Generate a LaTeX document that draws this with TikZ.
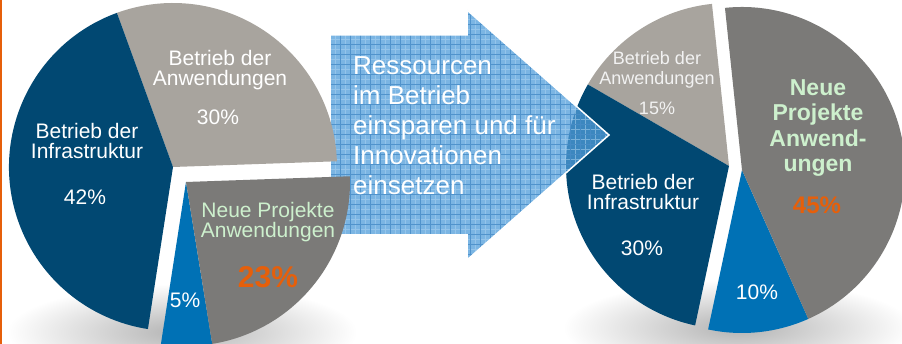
\documentclass[tikz,border=0pt]{standalone}
\usepackage{fontspec}
\setmainfont{Liberation Sans}
\definecolor{infra}{RGB}{1,72,114}
\definecolor{anw}{RGB}{168,164,158}
\definecolor{neu}{RGB}{123,122,120}
\definecolor{smallblue}{RGB}{0,113,181}
\definecolor{mint}{RGB}{205,240,205}
\definecolor{orng}{RGB}{230,95,10}
\definecolor{arrowfill}{RGB}{80,157,218}
\definecolor{arrowgrid}{RGB}{35,115,185}
\definecolor{arrowlight}{RGB}{170,210,240}
\definecolor{paletext}{RGB}{242,242,242}
\newcommand\pieslice[6]{\fill[#6] (#1,#2) -- ++(#3:#5) arc[start angle=#3, end angle=#4, radius=#5] -- cycle;}
\tikzset{
  lbl/.style={font=\fontsize{21}{20}\selectfont, text=white, align=center, inner sep=0pt},
  lblsmall/.style={font=\fontsize{18}{20}\selectfont, text=paletext, align=center, inner sep=0pt},
  mintlbl/.style={font=\fontsize{21}{20}\selectfont, text=mint, align=center, inner sep=0pt},
  mintbold/.style={font=\fontsize{23}{25.5}\selectfont\bfseries, text=mint, align=center, inner sep=0pt},
  bigpct/.style={text=orng, inner sep=0pt},
  arrowtext/.style={font=\fontsize{26}{30}\selectfont, text=white, align=left, inner sep=0pt},
}
\begin{document}
\begin{tikzpicture}[x=1pt,y=1pt]
\clip (0,0) rectangle (902,344);
\fill[white] (0,0) rectangle (902,344);
% shadows
\shade[inner color=black!30, outer color=white] (182,12) ellipse [x radius=175, y radius=48];
\shade[inner color=black!30, outer color=white] (738,16) ellipse [x radius=175, y radius=48];
% right pie
\pieslice{729}{178}{96}{150}{163}{anw}
\pieslice{729}{178}{150}{258}{163}{infra}
\pieslice{742}{174}{258}{294}{163}{smallblue}
\pieslice{742}{174}{294}{456}{163}{neu}
% arrow
\path[fill=arrowfill, fill opacity=0.75] (330,109) -- (330,309) -- (467,309) -- (467,334) -- (609,209) -- (467,84) -- (467,109) -- cycle;
\begin{scope}
\clip (330,109) -- (330,309) -- (467,309) -- (467,334) -- (609,209) -- (467,84) -- (467,109) -- cycle;
\draw[arrowlight, line width=0.7pt, opacity=0.55] (325,79) grid[step=5pt] (615,340);
\draw[arrowgrid, line width=0.9pt, opacity=0.6] (330,80) grid[step=10pt] (615,340);
\end{scope}
\draw[white, line width=1.5pt] (330,109) -- (330,309) -- (467,309) -- (467,334) -- (609,209) -- (467,84) -- (467,109) -- cycle;
\node[arrowtext, anchor=west] (atext) at (353,218) {Ressourcen\\im Betrieb\\einsparen und für\\Innovationen\\einsetzen};
% left pie
\pieslice{173}{177}{2}{110}{164}{anw}
\pieslice{173}{177}{110}{261.2}{164}{infra}
\pieslice{186}{162}{261.2}{279.2}{164}{smallblue}
\pieslice{186}{162}{279.2}{362}{164}{neu}
% left labels
\node[lbl] (lanw) at (220,274) {Betrieb der\\Anwendungen};
\node[lbl] (lanwp) at (218,227) {30\%};
\node[lbl] (linf) at (87,203) {Betrieb der\\Infrastruktur};
\node[lbl] (linfp) at (85,147) {42\%};
\node[mintlbl] (lneu) at (268,122) {Neue Projekte\\Anwendungen};
\node[bigpct, font=\fontsize{30}{30}\selectfont\bfseries] (lneup) at (268,67) {23\%};
\node[lbl] (lsm) at (185,44) {5\%};
% right labels
\node[lblsmall] (ranw) at (657,274) {Betrieb der\\Anwendungen};
\node[lblsmall] (ranwp) at (657,236) {15\%};
\node[lbl] (rinf) at (643,152) {Betrieb der\\Infrastruktur};
\node[lbl] (rinfp) at (642,96) {30\%};
\node[mintbold] (rneu) at (818,216) {Neue\\Projekte\\Anwend-\\ungen};
\node[bigpct, font=\fontsize{24}{24}\selectfont\bfseries] (rneup) at (817,139) {45\%};
\node[lbl] (rsm) at (757,52) {10\%};
% orange edge
\fill[orng] (0,0) rectangle (1.5,344);
\end{tikzpicture}
\end{document}
